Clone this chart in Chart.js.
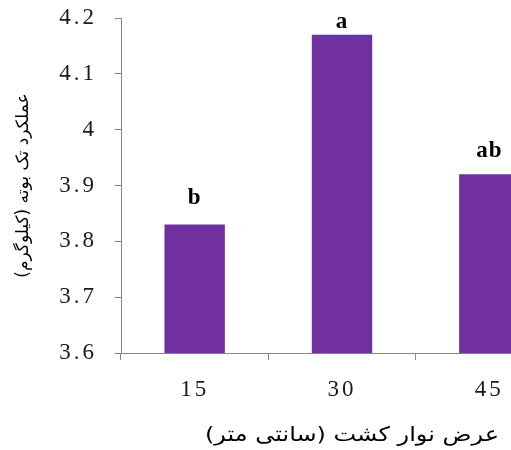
<!DOCTYPE html>
<html>
<head>
<meta charset="utf-8">
<script src="https://cdn.jsdelivr.net/npm/chart.js@4/dist/chart.umd.min.js"></script>
<style>
  html, body { margin: 0; padding: 0; background: #fff; overflow: hidden; width: 511px; height: 450px; }
  #wrap { width: 568px; height: 450px; }
</style>
</head>
<body>
<div id="wrap"><canvas id="c" width="568" height="450"></canvas></div>
<script>
// Strip width (cm) and single-plant yield (kg)
const categories = ['15', '30', '45'];
const yieldPerPlant = [3.83, 4.17, 3.92];
const groupLetters = ['b', 'a', 'ab'];
const yMin = 3.6, yMax = 4.2, yStep = 0.1;
const xTitle = 'عرض نوار کشت (سانتی متر)';
const yTitle = 'عملکرد تک بوته (کیلوگرم)';

// distance (px) from each bar top to its letter baseline
const letterGap = [21, 7, 17];

const axisGrey = '#868686';
const tickFont = { family: '"Liberation Serif", "Times New Roman", serif', size: 23 };

const decorations = {
  id: 'decorations',
  beforeDraw(chart) { chart.ctx.letterSpacing = '3px'; },
  beforeDatasetsDraw(chart) { chart.ctx.letterSpacing = '0px'; },
  afterDatasetsDraw(chart) {
    const ctx = chart.ctx;
    const area = chart.chartArea;
    ctx.save();
    // mean-separation letters above the bars
    ctx.letterSpacing = '1px';
    ctx.fillStyle = '#000';
    ctx.font = 'bold 23px "Liberation Serif", serif';
    ctx.textAlign = 'center';
    ctx.textBaseline = 'alphabetic';
    chart.getDatasetMeta(0).data.forEach((bar, i) => {
      ctx.fillText(groupLetters[i], bar.x, bar.y - letterGap[i]);
    });
    // axis titles
    ctx.letterSpacing = '0px';
    ctx.direction = 'rtl';
    ctx.textBaseline = 'middle';
    ctx.save();
    ctx.translate((area.left + area.right) / 2 + 10, 436);
    ctx.scale(1.2, 1);
    ctx.font = '20px "DejaVu Sans", sans-serif';
    ctx.fillText(xTitle, 0, 0);
    ctx.restore();
    ctx.translate(24, (area.top + area.bottom) / 2);
    ctx.rotate(-Math.PI / 2);
    ctx.font = '17px "DejaVu Sans", sans-serif';
    ctx.fillText(yTitle, 0, 0);
    ctx.restore();
  }
};

new Chart(document.getElementById('c'), {
  type: 'bar',
  data: {
    labels: categories,
    datasets: [{
      data: yieldPerPlant,
      backgroundColor: '#7030A0',
      borderWidth: 0,
      categoryPercentage: 1,
      barPercentage: 0.41
    }]
  },
  options: {
    responsive: false,
    animation: false,
    devicePixelRatio: 1,
    layout: { padding: { top: 18, left: 0, right: 5, bottom: 0 } },
    plugins: { legend: { display: false }, tooltip: { enabled: false } },
    scales: {
      x: {
        grid: { drawOnChartArea: false, drawTicks: true, tickLength: 7, color: axisGrey, offset: true },
        border: { color: axisGrey, width: 1 },
        ticks: { font: tickFont, color: '#1a1a1a', padding: 16, maxRotation: 0 },
        afterFit(scale) { scale.height = 97; }
      },
      y: {
        min: yMin,
        max: yMax,
        grid: { drawOnChartArea: false, drawTicks: true, tickLength: 6, color: axisGrey },
        border: { color: axisGrey, width: 1 },
        ticks: {
          stepSize: yStep,
          font: tickFont,
          color: '#1a1a1a',
          padding: 18,
          callback: (v) => String(Number(v.toFixed(1)))
        },
        afterFit(scale) {
          scale.width = 121;
          scale.paddingTop = 0;
          scale.paddingBottom = 0;
        }
      }
    }
  },
  plugins: [decorations]
});
</script>
</body>
</html>
